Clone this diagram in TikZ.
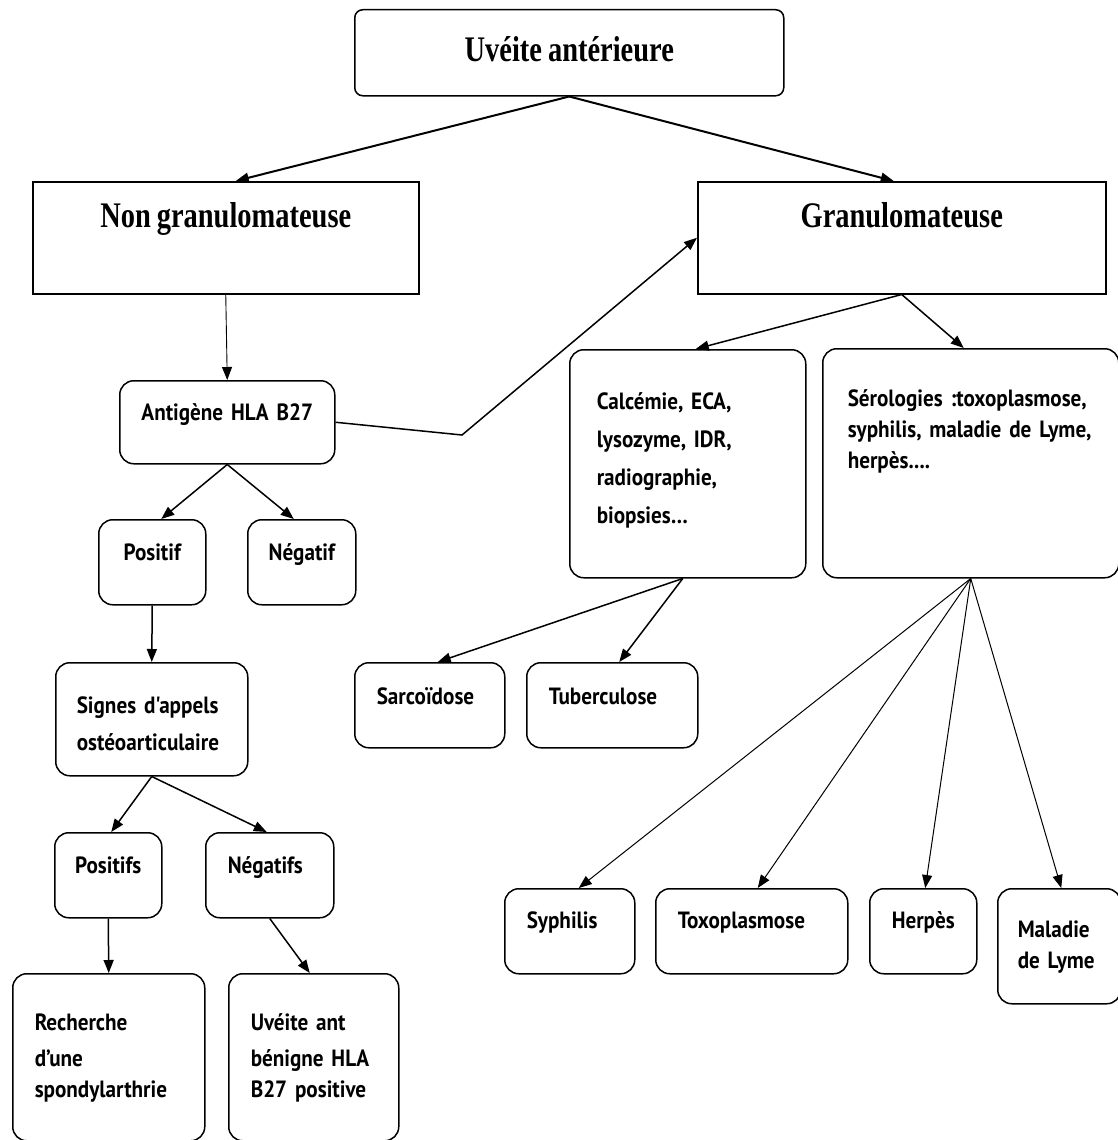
\documentclass[tikz,border=0pt]{standalone}
\usepackage{fontspec}
\usetikzlibrary{arrows.meta}
\newfontfamily\titlefont{Liberation Serif}[FakeStretch=0.79]
\newfontfamily\bodyfont{PT Sans}[FakeStretch=0.9]

\begin{document}
\begin{tikzpicture}[x=1pt,y=-1pt,
  box/.style={draw, line width=1.5pt, anchor=north west, align=left, inner ysep=0pt, inner xsep=22pt,
    font=\fontsize{23.5}{31}\selectfont\bodyfont\bfseries},
  rbox/.style={box, rounded corners=14pt},
  tbox/.style={box, align=center, inner xsep=0pt, font=\fontsize{36}{40}\selectfont\titlefont\bfseries,
    execute at begin node={\spaceskip=6pt\relax}},
  arr/.style={-{Triangle[length=13pt,width=10pt]}, line width=1.5pt}]
\useasboundingbox (0,0) rectangle (1118,1140);
%\draw[red] (0,0) rectangle (1118,1140);
\node[tbox, rounded corners=8pt, text width=429pt, text height=52pt, text depth=34pt] (uveite) at (354,9) {Uvéite antérieure};
\node[tbox, text width=386pt, text height=46pt, text depth=66pt] (nongran) at (32,181) {Non granulomateuse};
\node[tbox, text width=408pt, text height=46pt, text depth=66pt] (gran) at (697,181) {Granulomateuse};
\node[rbox, align=center, inner xsep=8pt, text width=199pt, text height=40pt, text depth=43pt] (hla) at (119,380) {Antigène HLA B27};
\node[rbox, align=center, inner xsep=8pt, text width=91pt, text height=41pt, text depth=44pt] (pos) at (98,519) {Positif};
\node[rbox, align=center, inner xsep=8pt, text width=92pt, text height=41pt, text depth=44pt] (neg) at (247,519) {Négatif};
\node[rbox, inner xsep=21pt, text width=150pt, text height=51pt, text depth=62pt] (signes) at (55,662) {Signes d'appels\\[6pt]ostéoarticulaire};
\node[rbox, align=center, inner xsep=8pt, text width=91pt, text height=41pt, text depth=44pt] (poss) at (54,832) {Positifs};
\node[rbox, text width=84pt, text height=41pt, text depth=44pt] (negs) at (205,832) {Négatifs};
\node[rbox, inner xsep=22pt, text width=148pt, text height=57pt, text depth=110pt] (rech) at (12,973) {Recherche\\[5pt]d’une\\spondylarthrie};
\node[rbox, inner xsep=22pt, text width=126pt, text height=57pt, text depth=110pt] (benigne) at (228,973) {Uvéite ant\\[5pt]bénigne HLA\\B27 positive};
\node[rbox, inner xsep=27pt, text width=182pt, text height=60pt, text depth=168pt] (calc) at (569,349) {Calcémie, ECA,\\[7pt]lysozyme, IDR,\\[7pt]radiographie,\\[7pt]biopsies\ldots};
\node[rbox, inner xsep=25pt, text width=246pt, text height=58pt, text depth=171pt] (sero) at (822,348) {Sérologies :toxoplasmose,\\syphilis, maladie de Lyme,\\herpès....};
\node[rbox, text width=106pt, text height=42pt, text depth=43pt] (sarc) at (354,662) {Sarcoïdose};
\node[rbox, text width=127pt, text height=42pt, text depth=43pt] (tuber) at (526,662) {Tuberculose};
\node[rbox, text width=86pt, text height=40pt, text depth=45pt] (syph) at (504,888) {Syphilis};
\node[rbox, text width=148pt, text height=40pt, text depth=45pt] (toxo) at (655,888) {Toxoplasmose};
\node[rbox, text width=63pt, text height=40pt, text depth=45pt] (herpes) at (869,888) {Herpès};
\node[rbox, inner xsep=20pt, text width=83pt, text height=49pt, text depth=66pt] (lyme) at (997,888) {Maladie\\de Lyme};
\coordinate (bend) at (462,435);
\draw[arr, line width=2pt] (uveite.south) -- ([xshift=10pt]nongran.north);
\draw[arr, line width=2pt] (uveite.south) -- ([xshift=-8pt]gran.north);
\draw[arr, line width=0.9pt] (nongran.south) -- (hla.north);
\draw[arr] (hla.east) -- (bend) -- (gran.west);
\draw[arr] (hla.south) -- ([xshift=9pt]pos.north);
\draw[arr] (hla.south) -- ([xshift=-8pt]neg.north);
\draw[arr] (pos.south) -- (signes.north);
\draw[arr] (signes.south) -- ([xshift=3pt]poss.north);
\draw[arr] (signes.south) -- ([xshift=-3pt]negs.north);
\draw[arr] (poss.south) -- (rech.north);
\draw[arr] (negs.south) -- ([xshift=-4pt]benigne.north);
\draw[arr] (gran.south) -- ([xshift=8pt]calc.north);
\draw[arr] (gran.south) -- ([xshift=-7pt]sero.north);
\draw[arr] ([xshift=-5pt]calc.south) -- ([xshift=8pt]sarc.north);
\draw[arr] ([xshift=-5pt]calc.south) -- ([xshift=7pt]tuber.north);
\draw[arr, line width=1pt] (sero.south) -- ([xshift=9pt]syph.north);
\draw[arr, line width=1pt] (sero.south) -- ([xshift=6pt]toxo.north);
\draw[arr, line width=1pt] (sero.south) -- ([xshift=2pt]herpes.north);
\draw[arr, line width=1pt] (sero.south) -- ([xshift=2pt]lyme.north);
\end{tikzpicture}
\end{document}
